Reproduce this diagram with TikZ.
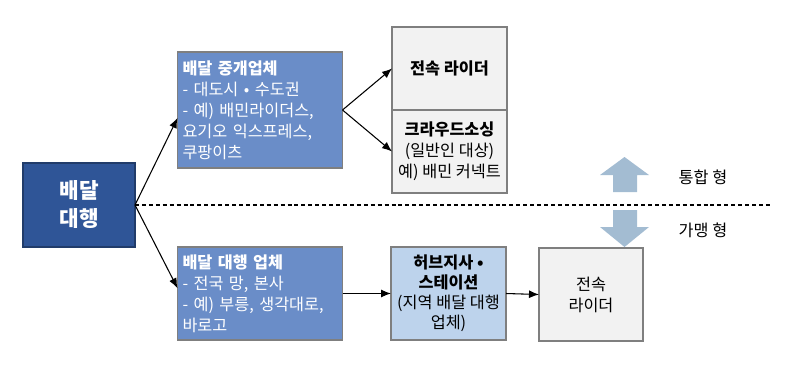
\documentclass[tikz,border=0pt]{standalone}
\usepackage{fontspec}
\setmainfont{Noto Sans CJK KR}
\usetikzlibrary{arrows.meta}
\definecolor{darkblue}{HTML}{2F5597}
\definecolor{midblue}{HTML}{6A8DC8}
\definecolor{lightblue}{HTML}{BDD3EC}
\definecolor{lightgray}{HTML}{F2F2F2}
\definecolor{edgegray}{HTML}{7F7F7F}
\definecolor{blockarrow}{HTML}{A3BCD2}
\tikzset{
  px/.style={x=0.75pt,y=-0.75pt},
  basebox/.style={draw=edgegray, line width=0.8pt, inner sep=0pt, outer sep=0pt},
  mainbox/.style={basebox, fill=darkblue, draw=darkblue!70!black, text=white,
    font=\fontsize{16}{21}\selectfont\bfseries, align=center},
  midbox/.style={basebox, fill=midblue, text=white,
    font=\fontsize{12.2}{15.75}\selectfont, align=left},
  graybox/.style={basebox, fill=lightgray, text=black,
    font=\fontsize{12.2}{15.75}\selectfont, align=center},
  hubbox/.style={basebox, fill=lightblue, text=black,
    font=\fontsize{12.2}{15}\selectfont, align=center},
  conn/.style={line width=0.8pt, -{Latex[length=7.5pt,width=6pt]}},
  sep/.style={line width=0.8pt, dash pattern=on 3pt off 2.2pt},
  blk/.style={fill=blockarrow, draw=none},
  lbl/.style={font=\fontsize{12.2}{14}\selectfont, text=black}
}
\begin{document}
\begin{tikzpicture}[px]
\useasboundingbox (0,0) rectangle (812,385);
\node[mainbox, minimum width=112*0.75pt, minimum height=84*0.75pt] (main) at (79,205) {배달\\대행};
\node[midbox, minimum width=165*0.75pt, minimum height=116*0.75pt, text width=155*0.75pt] (mid1) at (260,110)
  {\textbf{배달 중개업체}\\- 대도시 • 수도권\\- 예) 배민라이더스,\\요기오 익스프레스,\\쿠팡이츠};
\node[midbox, minimum width=165*0.75pt, minimum height=93*0.75pt, text width=155*0.75pt] (mid2) at (260,293.5)
  {\textbf{배달 대행 업체}\\- 전국 망, 본사\\- 예) 부릉, 생각대로,\\바로고};
\node[graybox, minimum width=115*0.75pt, minimum height=83*0.75pt] (rider) at (449.5,68.5) {\textbf{전속 라이더}};
\node[graybox, minimum width=115*0.75pt, minimum height=83*0.75pt] (crowd) at (449.5,151.5)
  {\textbf{크라우드소싱}\\(일반인 대상)\\예) 배민 커넥트};
\node[hubbox, minimum width=115*0.75pt, minimum height=93*0.75pt] (hub) at (448.5,293.5)
  {\textbf{허브지사 •}\\\textbf{스테이션}\\(지역 배달 대행\\업체)};
\node[graybox, minimum width=104*0.75pt, minimum height=93*0.75pt] (last) at (591,294.5) {전속\\라이더};
\coordinate (dashend) at (770,205);
\draw[sep] (main.east) -- (dashend);
\draw[conn] (main.east) -- ([yshift=-6pt]mid1.west);
\draw[conn] (main.east) -- ([yshift=4pt]mid2.west);
\draw[conn] (mid1.east) -- (rider.west);
\draw[conn] (mid1.east) -- (crowd.west);
\draw[conn] (mid2.east) -- (hub.west);
\draw[conn] (hub.east) -- (last.west);
\fill[blk] (624.5,157) -- (649,175) -- (637,175) -- (637,192) -- (613,192) -- (613,175) -- (600,175) -- cycle;
\fill[blk] (613,210) -- (637,210) -- (637,227) -- (649,227) -- (624.5,247) -- (600,227) -- (613,227) -- cycle;
\node[lbl] (tong) at (703,177) {통합 형};
\node[lbl] (gamaeng) at (703,230) {가맹 형};
\end{tikzpicture}
\end{document}
